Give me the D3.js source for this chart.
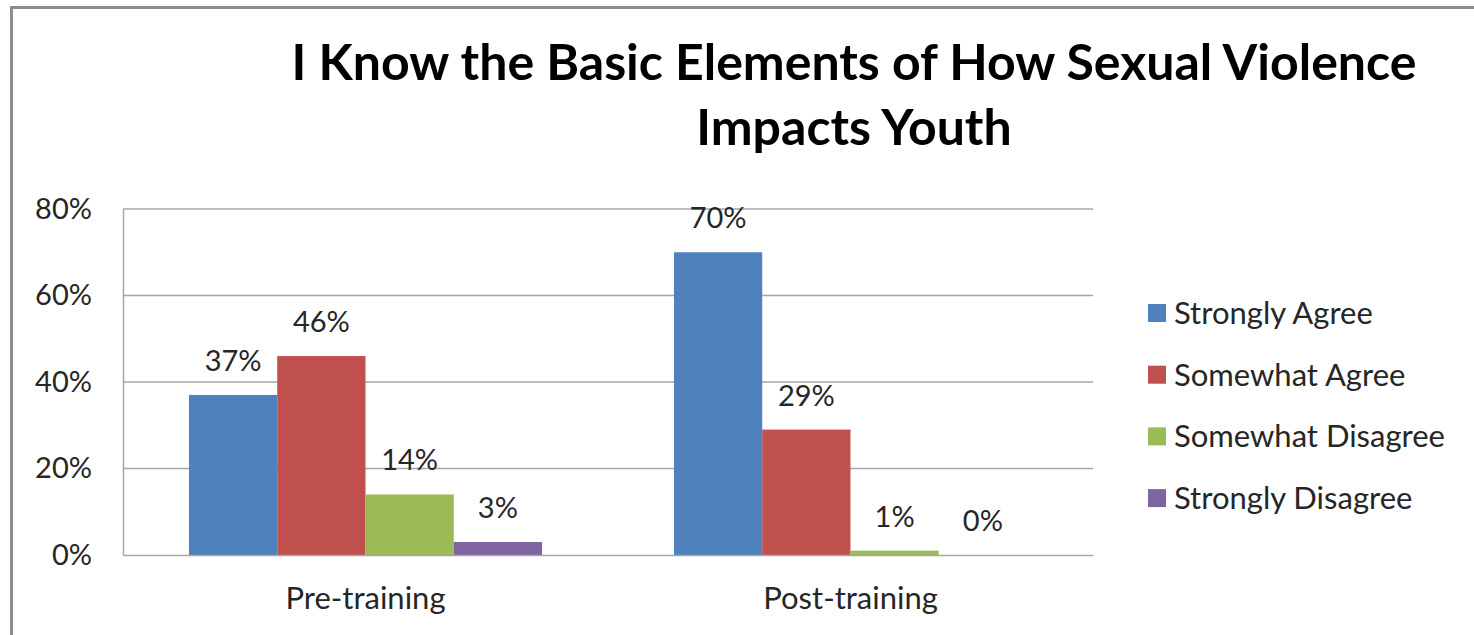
<!DOCTYPE html>
<html>
<head>
<meta charset="utf-8">
<script src="https://cdn.jsdelivr.net/npm/d3@7"></script>
<style>
  html, body { margin: 0; padding: 0; background: #fff; }
  svg text { font-family: Lato, "Open Sans", sans-serif; }
</style>
</head>
<body>
<div id="chart"></div>
<script>
// data
const categories = ["Pre-training", "Post-training"];
const seriesNames = ["Strongly Agree", "Somewhat Agree", "Somewhat Disagree", "Strongly Disagree"];
const preValues = [0.37, 0.46, 0.14, 0.03];
const postValues = [0.70, 0.29, 0.01, 0.00];
const yTicks = [0, 0.2, 0.4, 0.6, 0.8];
const titleLines = ["I Know the Basic Elements of How Sexual Violence", "Impacts Youth"];

const colors = ["#4f81bd", "#c0504d", "#9bbb59", "#8064a2"];
const allValues = [preValues, postValues];

const width = 1474, height = 635;
const plot = {left: 123, right: 1093, top: 209, bottom: 555};

const svg = d3.select("#chart").append("svg").attr("width", width).attr("height", height);

// chart frame (only top/left edges fall inside the picture)
svg.append("rect").attr("x", 11.5).attr("y", 7.5).attr("width", 1500).attr("height", 700)
    .attr("fill", "none").attr("stroke", "#8c8c8c").attr("stroke-width", 3);

// title
svg.append("text").attr("x", 854).attr("y", 80).attr("text-anchor", "middle")
    .style("font-weight", "bold").style("font-size", "50px").style("fill", "#000")
    .selectAll("tspan").data(titleLines).enter().append("tspan")
    .attr("x", 854).attr("dy", (d, i) => i === 0 ? 0 : 65).text(d => d);

//scales
const x0 = d3.scaleBand().domain(categories).range([plot.left, plot.right]).paddingInner(0.272).paddingOuter(0.136);
const x1 = d3.scaleBand().domain(seriesNames).range([0, x0.bandwidth()]);
const y = d3.scaleLinear().domain([0, 0.8]).range([plot.bottom, plot.top]);

//gridlines
svg.append("g").selectAll("line").data(yTicks.filter(d => d > 0)).enter().append("line")
    .attr("x1", plot.left).attr("x2", plot.right).attr("y1", d => y(d)).attr("y2", d => y(d))
    .attr("stroke", "#a6a6a6").attr("stroke-width", 1.5);

//y axis
const yAxis = svg.append("g").attr("transform", `translate(${plot.left},0)`)
    .call(d3.axisLeft(y).tickValues(yTicks).tickSize(0).tickPadding(31).tickFormat(d3.format(".0%")));
yAxis.select(".domain").attr("stroke", "#a6a6a6").attr("stroke-width", 1.5);
yAxis.selectAll("text").style("font-size", "29px").style("fill", "#262626").attr("font-family", null);

//bars
const groups = svg.append("g").selectAll("g").data(categories).enter().append("g")
    .attr("transform", d => `translate(${x0(d)},0)`);
groups.selectAll("rect").data((d, i) => allValues[i].map((v, j) => ({name: seriesNames[j], value: v, color: colors[j]})))
    .enter().append("rect")
    .attr("x", d => x1(d.name)).attr("y", d => y(d.value))
    .attr("width", x1.bandwidth()).attr("height", d => plot.bottom - y(d.value))
    .attr("fill", d => d.color);

//value labels
groups.selectAll(".bar-label").data((d, i) => allValues[i].map((v, j) => ({name: seriesNames[j], value: v})))
    .enter().append("text").attr("class", "bar-label")
    .attr("x", d => x1(d.name) + x1.bandwidth() / 2).attr("y", d => y(d.value) - 24)
    .attr("text-anchor", "middle").style("font-size", "29px").style("fill", "#262626")
    .text(d => d3.format(".0%")(d.value));

//x axis
const xAxis = svg.append("g").attr("transform", `translate(0,${plot.bottom})`)
    .call(d3.axisBottom(x0).tickSize(0).tickPadding(32));
xAxis.select(".domain").attr("stroke", "#a6a6a6").attr("stroke-width", 1.5);
xAxis.selectAll("text").style("font-size", "31px").style("fill", "#262626").attr("font-family", null);

//legend
const legend = svg.append("g").selectAll("g").data(seriesNames).enter().append("g")
    .attr("transform", (d, i) => `translate(1148,${313 + i * 61.7})`);
legend.append("rect").attr("x", 0).attr("y", -9).attr("width", 18).attr("height", 18).attr("fill", (d, i) => colors[i]);
legend.append("text").attr("x", 26).attr("dy", "0.35em").style("font-size", "31px").style("fill", "#262626").text(d => d);
</script>
</body>
</html>
